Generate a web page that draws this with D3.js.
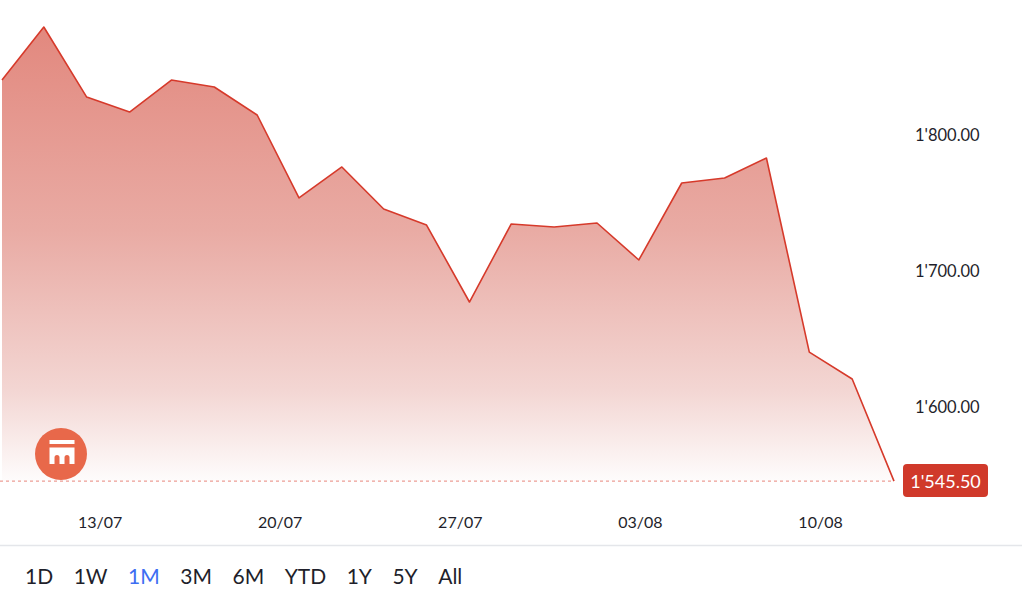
<!DOCTYPE html>
<html>
<head>
<meta charset="utf-8">
<script src="https://cdn.jsdelivr.net/npm/d3@7"></script>
<style>
  html, body { margin: 0; padding: 0; background: #ffffff; }
  svg { display: block; font-family: Lato, "Open Sans", sans-serif; }
</style>
</head>
<body>
<svg id="chart" width="1024" height="593"></svg>
<script>
// ---- data ----
const dates = [
  "2020-07-09T05:00", "2020-07-10T20:00", "2020-07-12T12:00", "2020-07-14T04:00",
  "2020-07-15T19:00", "2020-07-17T11:00", "2020-07-19T03:00", "2020-07-20T18:00",
  "2020-07-22T10:00", "2020-07-24T01:00", "2020-07-25T17:00", "2020-07-27T09:00",
  "2020-07-29T00:00", "2020-07-30T16:00", "2020-08-01T08:00", "2020-08-02T23:00",
  "2020-08-04T15:00", "2020-08-06T07:00", "2020-08-07T22:00", "2020-08-09T14:00",
  "2020-08-11T06:00", "2020-08-12T21:00"
];
const prices = [
  1840.4, 1879.4, 1827.9, 1816.9, 1840.4, 1835.3, 1814.7, 1753.7,
  1776.5, 1745.6, 1733.8, 1677.2, 1734.6, 1732.4, 1735.3, 1708.1,
  1764.7, 1768.4, 1783.1, 1640.4, 1620.6, 1545.5
];
const xTickDates = ["2020-07-13", "2020-07-20", "2020-07-27", "2020-08-03", "2020-08-10"];
const yTickValues = [1600, 1700, 1800];
const ranges = ["1D", "1W", "1M", "3M", "6M", "YTD", "1Y", "5Y", "All"];
const activeRange = "1M";

// ---- setup ----
const parse = d3.isoParse;
const data = dates.map((d, i) => ({ date: parse(d), value: prices[i] }));
const last = data[data.length - 1];

const svg = d3.select("#chart");
const x = d3.scaleTime()
  .domain(d3.extent(data, d => d.date))
  .range([2, 894]);
const y = d3.scaleLinear()
  .domain([1500, 1900])
  .range([543, -1]);

const locale = d3.formatLocale({ decimal: ".", thousands: "'", grouping: [3], currency: ["", ""] });
const fmt = locale.format(",.2f");

// gradient
const defs = svg.append("defs");
const grad = defs.append("linearGradient")
  .attr("id", "areaGrad")
  .attr("gradientUnits", "userSpaceOnUse")
  .attr("x1", 0).attr("x2", 0)
  .attr("y1", y(d3.max(prices))).attr("y2", y(last.value));
grad.append("stop").attr("offset", 0).attr("stop-color", "#e2887e");
grad.append("stop").attr("offset", 0.45).attr("stop-color", "#e9aba4");
grad.append("stop").attr("offset", 0.8).attr("stop-color", "#f3d6d3");
grad.append("stop").attr("offset", 1).attr("stop-color", "#fefcfc");

// area
const area = d3.area()
  .x(d => x(d.date))
  .y0(y(last.value))
  .y1(d => y(d.value));
svg.append("path")
  .datum(data)
  .attr("d", area)
  .attr("fill", "url(#areaGrad)");

// dashed reference line at last value
svg.append("line")
  .attr("x1", 0).attr("x2", x(last.date))
  .attr("y1", y(last.value)).attr("y2", y(last.value))
  .attr("stroke", "#e8877d")
  .attr("stroke-width", 1)
  .attr("stroke-dasharray", "3,3");

// line
const line = d3.line()
  .x(d => x(d.date))
  .y(d => y(d.value));
svg.append("path")
  .datum(data)
  .attr("d", line)
  .attr("fill", "none")
  .attr("stroke", "#d63a2b")
  .attr("stroke-width", 1.6)
  .attr("stroke-linejoin", "round");

// y axis (right side labels)
const yAxis = d3.axisRight(y)
  .tickValues(yTickValues)
  .tickSize(0)
  .tickPadding(0)
  .tickFormat(fmt);
const yg = svg.append("g")
  .attr("transform", "translate(915,0)")
  .call(yAxis);
yg.select(".domain").remove();
yg.selectAll("text")
  .attr("font-family", "Lato, sans-serif")
  .attr("font-size", 16.5)
  .attr("fill", "#1f1f2b");

// x axis
const xAxis = d3.axisBottom(x)
  .tickValues(xTickDates.map(d => parse(d)))
  .tickSize(0)
  .tickPadding(0)
  .tickFormat(d3.timeFormat("%d/%m"));
const xg = svg.append("g")
  .attr("transform", "translate(0,517)")
  .call(xAxis);
xg.select(".domain").remove();
xg.selectAll("text")
  .attr("font-family", "Lato, sans-serif")
  .attr("font-size", 16)
  .attr("fill", "#1f1f2b");

// last value badge
const badge = svg.append("g").attr("transform", `translate(903,${y(last.value) - 17})`);
badge.append("rect")
  .attr("width", 85).attr("height", 33).attr("rx", 4)
  .attr("fill", "#d0392a");
badge.append("text")
  .attr("x", 42.5).attr("y", 17)
  .attr("text-anchor", "middle")
  .attr("dominant-baseline", "central")
  .attr("font-family", "Lato, sans-serif")
  .attr("font-size", 18)
  .attr("fill", "#ffffff")
  .text(fmt(last.value));

// logo
const logo = svg.append("g");
logo.append("circle").attr("cx", 61).attr("cy", 454).attr("r", 26).attr("fill", "#e8684a");
logo.append("rect").attr("x", 49.5).attr("y", 440).attr("width", 25).attr("height", 4).attr("fill", "#ffffff");
logo.append("path")
  .attr("d", "M49.5,464 V447.5 H74.5 V464 H69.5 V457.5 A2.5,2.5 0 0 0 64.5,457.5 V464 H59.5 V457.5 A2.5,2.5 0 0 0 54.5,457.5 V464 Z")
  .attr("fill", "#ffffff");

// divider
svg.append("line")
  .attr("x1", 0).attr("x2", 1022)
  .attr("y1", 545.5).attr("y2", 545.5)
  .attr("stroke", "#e4e6ea")
  .attr("stroke-width", 1.5);

// range buttons
const btnG = svg.append("g");
let cx = 25;
ranges.forEach(r => {
  const t = btnG.append("text")
    .attr("x", cx).attr("y", 584)
    .attr("font-family", "Lato, sans-serif")
    .attr("font-size", 21)
    .attr("fill", r === activeRange ? "#3d6ef2" : "#1f1f2b")
    .text(r);
  cx += t.node().getComputedTextLength() + 20.5;
});
</script>
</body>
</html>
